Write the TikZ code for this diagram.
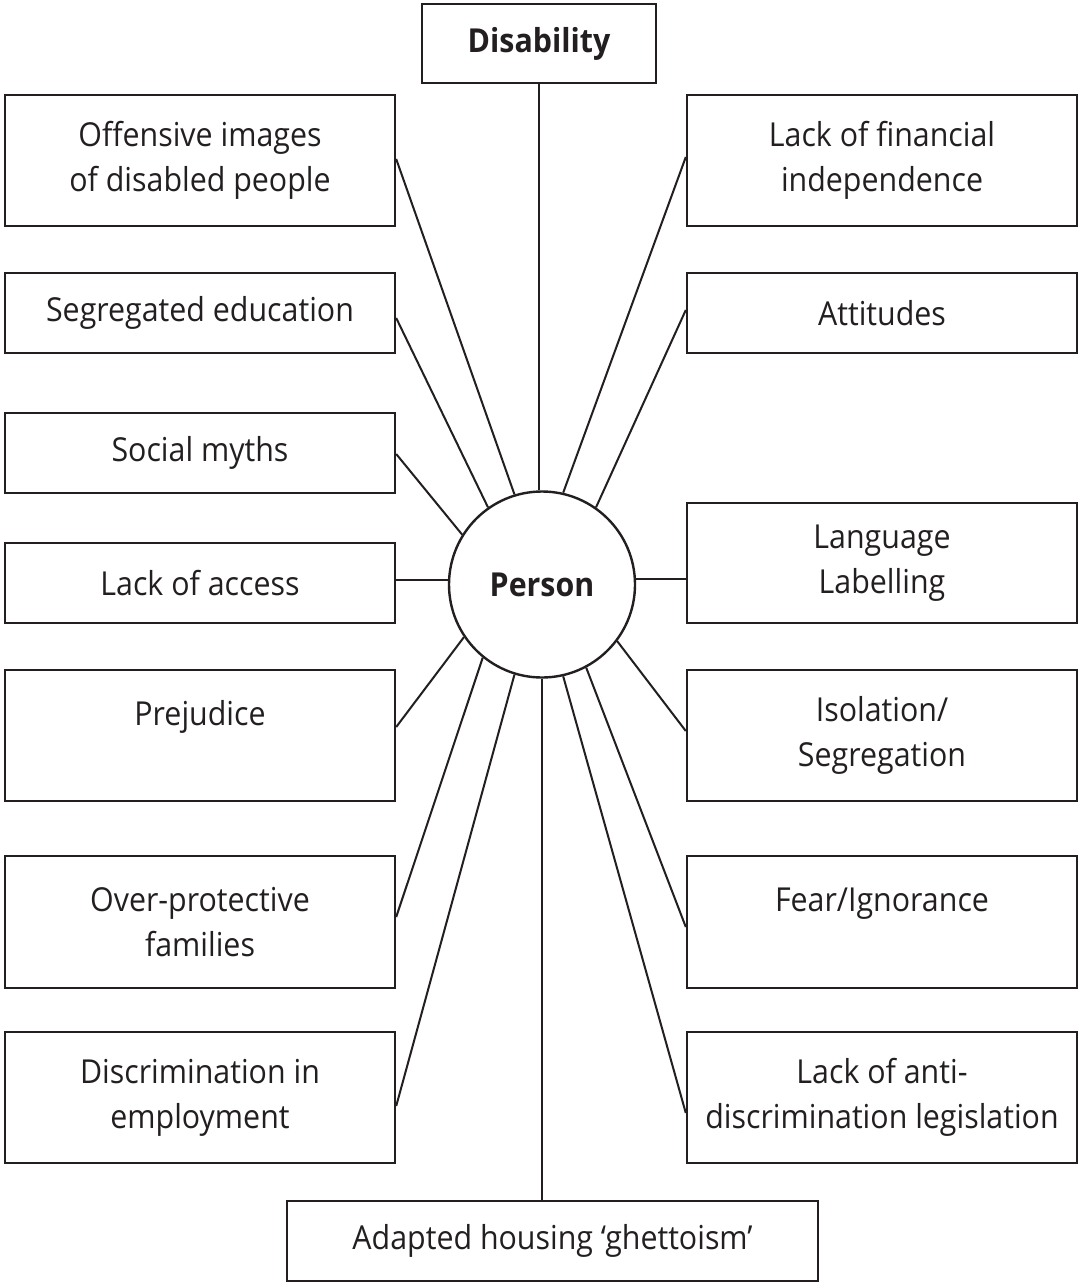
\documentclass[tikz,border=0pt]{standalone}
\usepackage{fontspec}
\setmainfont{Open Sans}[FakeStretch=0.92]
\usetikzlibrary{shapes.geometric}
\definecolor{ink}{HTML}{231F20}
\begin{document}
\begin{tikzpicture}[x=1pt,y=-1pt,
  every node/.style={text=ink, font=\fontsize{33}{45}\selectfont},
  cause/.style={draw=ink, line width=2.4pt, rectangle, inner sep=0pt,
    minimum width=390pt, align=center},
  link/.style={draw=ink, line width=2pt}]
\useasboundingbox (0,0) rectangle (1078,1282);
\fill[white] (0,0) rectangle (1078,1282);

\node[cause, minimum width=234pt, minimum height=79pt, font=\fontsize{33}{45}\selectfont\bfseries] (disab) at (539,43.5) {Disability};
\node[circle, draw=ink, line width=2.4pt, minimum size=186pt, inner sep=0pt, font=\fontsize{33}{45}\selectfont\bfseries] (person) at (542,584.5) {Person};

% left column
\node[cause, minimum height=131pt] (offens) at (200,160.5) {Offensive images\\of disabled people};
\node[cause, minimum height=80pt] (segedu) at (200,313) {Segregated education};
\node[cause, minimum height=80pt] (myths) at (200,453) {Social myths};
\node[cause, minimum height=80pt] (access) at (200,583) {Lack of access};
\node[cause, minimum height=131pt] (prejud) at (200,735.5) {Prejudice\\\mbox{}};
\node[cause, minimum height=132pt] (overpr) at (200,922) {Over-protective\\families};
\node[cause, minimum height=131pt] (discemp) at (200,1097.5) {Discrimination in\\employment};

% right column
\node[cause, minimum height=131pt] (financ) at (882,160.5) {Lack of financial\\independence};
\node[cause, minimum height=80pt] (attit) at (882,313) {Attitudes};
\node[cause, minimum height=120pt] (lang) at (882,563) {Language\\Labelling};
\node[cause, minimum height=131pt] (isol) at (882,735.5) {Isolation/\\Segregation};
\node[cause, minimum height=132pt] (fear) at (882,922) {Fear/Ignorance\\\mbox{}};
\node[cause, minimum height=131pt] (antidis) at (882,1097.5) {Lack of anti-\\discrimination legislation};

% bottom
\node[cause, minimum width=531pt, minimum height=80pt] (housing) at (552.5,1241) {Adapted housing ‘ghettoism’};

% connectors
\draw[link] (disab.south) -- (disab.south |- person.north);
\draw[link] (person.south) -- (person.south |- housing.north);
\draw[link] ([yshift=1.5pt]offens.east) -- (person.107);
\draw[link] ([yshift=-5pt]segedu.east) -- (person.125);
\draw[link] ([yshift=-1pt]myths.east) -- (person.148);
\draw[link] ([yshift=3pt]access.east) -- ([yshift=3pt]access.east -| person.west);
\draw[link] ([yshift=8.5pt]prejud.east) -- (person.214);
\draw[link] ([yshift=5pt]overpr.east) -- (person.231);
\draw[link] ([yshift=-8.5pt]discemp.east) -- (person.253);
\draw[link] ([yshift=3.5pt]financ.west) -- (person.77);
\draw[link] ([yshift=3pt]attit.west) -- (person.55.5);
\draw[link] ([yshift=-16pt]lang.west) -- ([yshift=-16pt]lang.west -| person.east);
\draw[link] ([yshift=4.5pt]isol.west) -- (person.323);
\draw[link] ([yshift=-5pt]fear.west) -- (person.298.5);
\draw[link] ([yshift=-15.5pt]antidis.west) -- (person.283.5);
\end{tikzpicture}
\end{document}
